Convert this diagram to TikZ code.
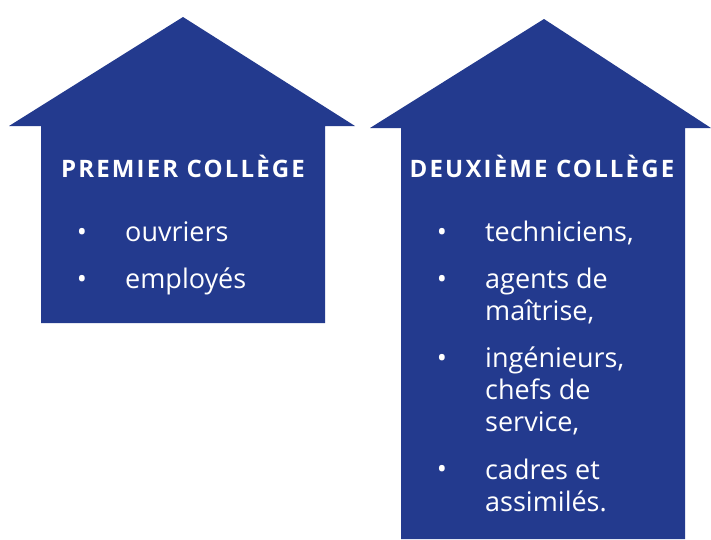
\documentclass[tikz,border=0pt]{standalone}
\usepackage{xcolor}
\usepackage{fontspec}
\setmainfont{Open Sans}
\definecolor{collegeblue}{HTML}{233A8E}

\begin{document}
\begin{tikzpicture}[x=1pt,y=-1pt]
\tikzstyle{every node}+=[inner sep=0pt, text=white]
\tikzstyle{titre}=[font=\fontsize{24}{28}\selectfont\bfseries\addfontfeatures{LetterSpace=9}, anchor=base]
\tikzstyle{puce}=[font=\fontsize{27}{32}\selectfont, anchor=base]
\tikzstyle{item}=[font=\fontsize{27}{32}\selectfont, anchor=base west, align=left]
\useasboundingbox (0,0) rectangle (711,539);
\fill [collegeblue] (41,323) -- (41,126) -- (9,126) -- (183,17) -- (355,126) -- (325,126) -- (325,323) -- cycle;
\fill [collegeblue] (401,539) -- (401,128) -- (370,128) -- (544,19) -- (711,128) -- (685,128) -- (685,539) -- cycle;
\node [titre] (t1) at (183,177) {PREMIER COLLÈGE};
\node [titre] (t2) at (542,177) {DEUXIÈME COLLÈGE};
\node [puce] (p1) at (82,241) {•};
\node [item] (ouvriers) at (125,241) {ouvriers};
\node [puce] (p2) at (82,288) {•};
\node [item] (employes) at (125,288) {employés};
\node [puce] (p3) at (442,241) {•};
\node [item] (techniciens) at (485,241) {techniciens,};
\node [puce] (p4) at (442,288) {•};
\node [item] (agents) at (485,320) {agents de\\maîtrise,};
\node [puce] (p5) at (442,367) {•};
\node [item] (ingenieurs) at (485,431) {ingénieurs,\\chefs de\\service,};
\node [puce] (p6) at (442,478) {•};
\node [item] (cadres) at (485,511) {cadres et\\assimilés.};
\end{tikzpicture}
\end{document}
